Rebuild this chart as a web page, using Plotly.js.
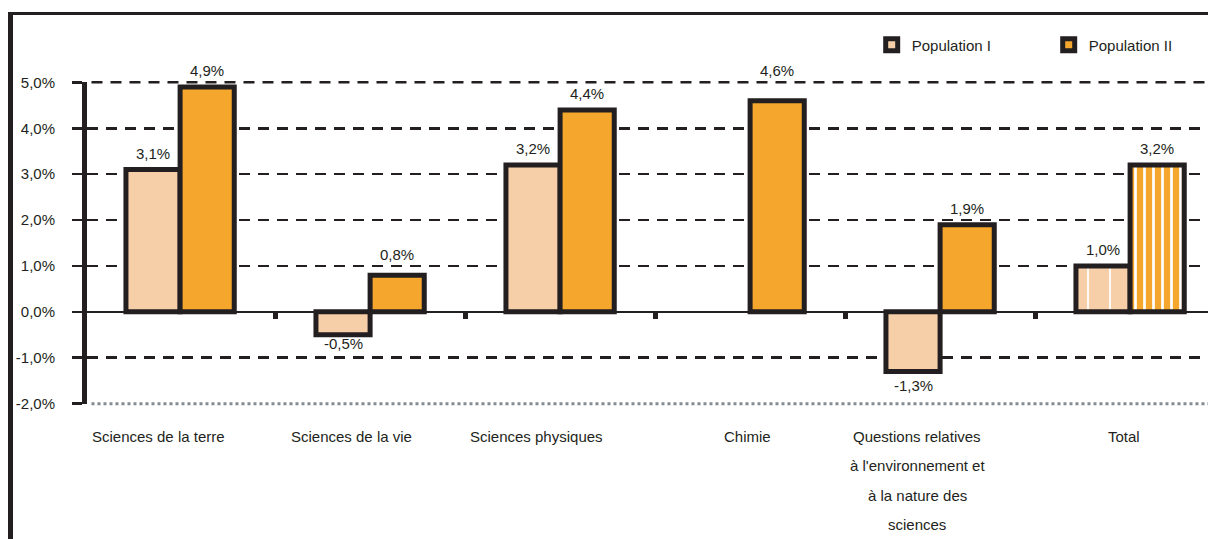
<!DOCTYPE html>
<html>
<head>
<meta charset="utf-8">
<script src="https://cdn.plot.ly/plotly-3.0.1.min.js"></script>
<style>
  html, body { margin: 0; padding: 0; background: #fff; }
  #wrap { position: relative; width: 1208px; height: 539px; overflow: hidden; }
  #chart { width: 1208px; height: 539px; }
  #frame { position: absolute; left: 8px; top: 12px; width: 1300px; height: 600px;
           border-left: 5px solid #231F20; border-top: 3.5px solid #231F20;
           pointer-events: none; box-sizing: border-box; }
</style>
</head>
<body>
<div id="wrap">
  <div id="chart"></div>
  <div id="frame"></div>
</div>
<script>
// ---- data ----
const categories = [
  "Sciences de la terre",
  "Sciences de la vie",
  "Sciences physiques",
  "Chimie",
  "Questions relatives\nà l'environnement et\nà la nature des\nsciences",
  "Total"
];
const seriesNames = ["Population I", "Population II"];
const populationI  = [3.1, -0.5, 3.2, null, -1.3, 1.0];
const populationII = [4.9, 0.8, 4.4, 4.6, 1.9, 3.2];
const yTickValues = [-2, -1, 0, 1, 2, 3, 4, 5];

// ---- styles ----
const colorI = "#F6CFA8";
const colorII = "#F4A62D";
const ink = "#231F20";
const fontFam = "Liberation Sans, Arial, Helvetica, sans-serif";
const labelShift = [-22, -19, -24, -3, -23, -6];   // category label x nudges (px)
const valueLift = [[0, 5, 0, 0, 0, 0], [0, 4, 0, 14, 0, 0]]; // value label y nudges (px)
const bargap = 0.43;
const gridDash = "11px,8px";

const fmt = v => (v === null || v === undefined) ? "" : v.toFixed(1).replace(".", ",") + "%";
const idx = categories.map((_, i) => i);
const patternShapes = categories.map((_, i) => i === categories.length - 1 ? "|" : "");
const yMin = Math.min(...yTickValues), yMax = Math.max(...yTickValues);
const yPad = 0.008;
const yRange = [yMin - yPad, yMax + yPad];
const toPaperY = v => (v - yRange[0]) / (yRange[1] - yRange[0]);

const traceI = {
  type: "bar", name: seriesNames[0], x: idx, y: populationI,
  marker: { color: colorI, line: { color: ink, width: 5 },
            pattern: { shape: patternShapes, fgcolor: "#ffffff", bgcolor: colorI,
                       size: 22, solidity: 0.08, fillmode: "replace" } },
  hoverinfo: "none"
};
const traceII = {
  type: "bar", name: seriesNames[1], x: idx, y: populationII,
  marker: { color: colorII, line: { color: ink, width: 5 },
            pattern: { shape: patternShapes, fgcolor: "#ffffff", bgcolor: colorII,
                       size: 9, solidity: 0.3, fillmode: "replace" } },
  hoverinfo: "none"
};

const annotations = [];
// value labels above / below the bars
const barOffset = (1 - bargap) / 4;
[populationI, populationII].forEach((series, s) => {
  series.forEach((v, i) => {
    if (v === null || v === undefined) return;
    annotations.push({
      x: i + (s === 0 ? -barOffset : barOffset), xref: "x", y: v, yref: "y",
      xanchor: "center", yanchor: v >= 0 ? "bottom" : "top",
      yshift: (v >= 0 ? 6 : -3) + valueLift[s][i], text: fmt(v), showarrow: false,
      font: { family: fontFam, size: 15, color: ink }
    });
  });
});
// category labels, one annotation per line for the wide line spacing
categories.forEach((c, i) => {
  c.split("\n").forEach((line, k) => {
    annotations.push({
      x: i, xref: "x", y: 0, yref: "paper", yanchor: "middle", xanchor: "center",
      text: line, showarrow: false, yshift: -32 - k * 29.5, xshift: labelShift[i],
      font: { family: fontFam, size: 15, color: ink }
    });
  });
});

const layout = {
  width: 1208, height: 539,
  margin: { l: 87, r: 0, t: 82, b: 135, pad: 0, autoexpand: false },
  paper_bgcolor: "#ffffff", plot_bgcolor: "#ffffff",
  font: { family: fontFam, size: 15, color: ink },
  barmode: "group", bargap: bargap, bargroupgap: 0,
  showlegend: true,
  legend: {
    orientation: "h", x: 0.70, xanchor: "left", y: 1.115, yanchor: "middle",
    entrywidth: 132, entrywidthmode: "pixels",
    font: { family: fontFam, size: 15, color: ink }, bgcolor: "rgba(0,0,0,0)"
  },
  xaxis: {
    type: "linear", range: [-0.49, 5.41],
    anchor: "free", position: toPaperY(0),
    showgrid: false, zeroline: false, showline: false,
    tickmode: "array", tickvals: idx.slice(0, -1).map(i => i + 0.5),
    ticks: "outside", ticklen: 6, tickwidth: 5, tickcolor: ink,
    showticklabels: false, fixedrange: true
  },
  yaxis: {
    range: yRange, tickmode: "array", tickvals: yTickValues,
    ticktext: yTickValues.map(v => v.toFixed(1).replace(".", ",") + "%"),
    showline: true, linewidth: 5, linecolor: ink,
    ticks: "outside", ticklen: 10, tickwidth: 2.5, tickcolor: ink,
    ticklabelstandoff: 14,
    showgrid: true, gridcolor: ink, gridwidth: 2.5, griddash: gridDash,
    zeroline: true, zerolinecolor: ink, zerolinewidth: 2,
    tickfont: { family: fontFam, size: 15, color: ink }, fixedrange: true
  },
  shapes: [
    { type: "line", xref: "paper", yref: "paper", x0: 0.004, x1: 1,
      y0: toPaperY(yMax), y1: toPaperY(yMax),
      line: { color: ink, width: 2.5, dash: gridDash }, layer: "below" },
    { type: "line", xref: "paper", yref: "paper", x0: 0.004, x1: 1,
      y0: toPaperY(yMin), y1: toPaperY(yMin),
      line: { color: "#ffffff", width: 4 }, layer: "above" },
    { type: "line", xref: "paper", yref: "paper", x0: 0.004, x1: 1,
      y0: toPaperY(yMin), y1: toPaperY(yMin),
      line: { color: "#848b91", width: 3, dash: "dot" }, layer: "above" }
  ],
  annotations: annotations
};

Plotly.newPlot("chart", [traceI, traceII], layout, { displayModeBar: false, staticPlot: true });
</script>
</body>
</html>
